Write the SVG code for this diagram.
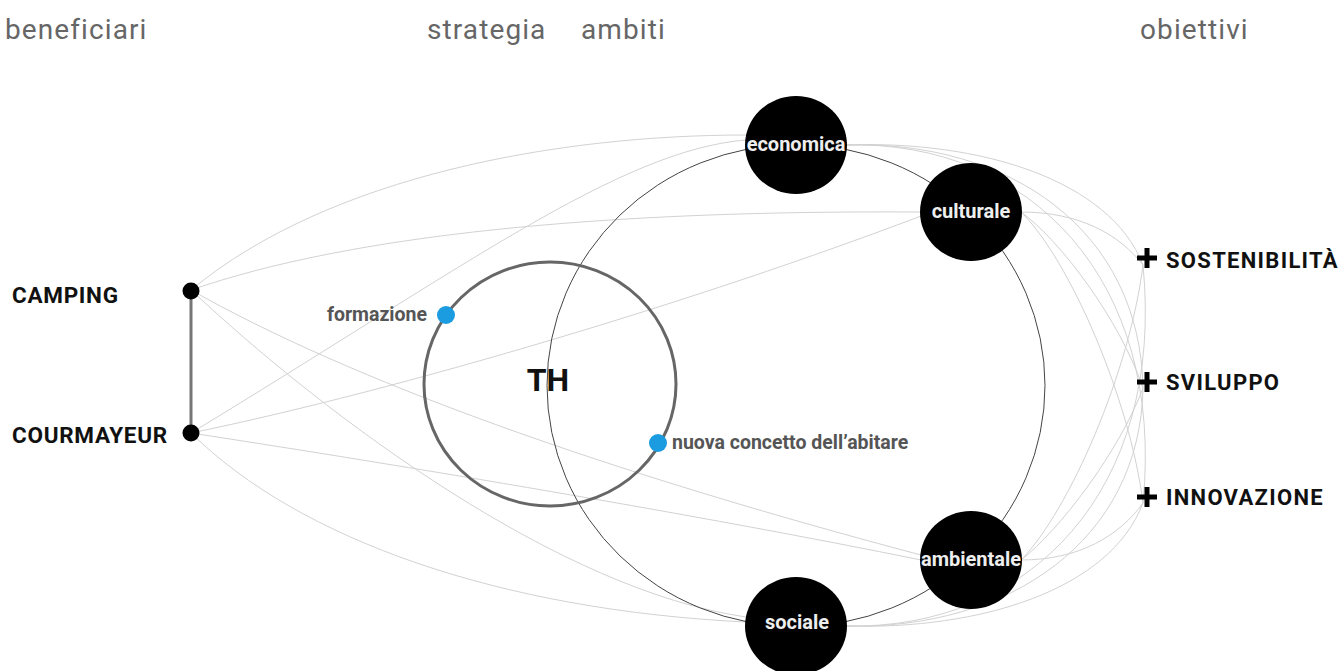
<svg xmlns="http://www.w3.org/2000/svg" width="1341" height="671" viewBox="0 0 1341 671">
  <style>
    .head { font-family: Roboto, "Liberation Sans", sans-serif; font-size: 28px; letter-spacing: 1.1px; fill: #666; }
    .benef { font-family: Roboto, "Liberation Sans", sans-serif; font-size: 22.5px; letter-spacing: 0.7px; font-weight: bold; fill: #111; }
    .goal { font-family: Roboto, "Liberation Sans", sans-serif; font-size: 22px; letter-spacing: 1.3px; font-weight: bold; fill: #111; }
    .strat { font-family: Roboto, "Liberation Sans", sans-serif; font-size: 19.5px; font-weight: bold; fill: #555; }
    .ambito { font-family: Roboto, "Liberation Sans", sans-serif; font-size: 20px; font-weight: bold; fill: #eee; text-anchor: middle; }
    .link { fill: none; stroke: #d2d2d2; stroke-width: 1; }
    .dot { fill: #000; }
    .blue { fill: #1b9be0; }
    .plus { stroke: #000; stroke-width: 5; fill: none; }
  </style>

  <!-- column headers -->
  <g id="headers">
    <text class="head" x="5" y="39">beneficiari</text>
    <text class="head" x="427" y="39">strategia</text>
    <text class="head" x="581" y="39">ambiti</text>
    <text class="head" x="1140" y="39">obiettivi</text>
  </g>

  <!-- connectors -->
  <g id="connectors">
    <!-- beneficiari to ambiti -->
    <path class="link" d="M191 290 C330 175 560 135 746 135"/>
    <path class="link" d="M191 433 C460 270 620 150 746 140"/>
    <path class="link" d="M191 290 C350 235 600 210 921 212"/>
    <path class="link" d="M191 433 C400 390 700 300 921 216"/>
    <path class="link" d="M191 290 C350 380 600 470 921 555"/>
    <path class="link" d="M191 433 C400 465 700 515 921 560"/>
    <path class="link" d="M191 290 C330 420 560 590 746 617"/>
    <path class="link" d="M191 433 C300 540 500 610 746 622"/>
    <!-- ambiti to obiettivi -->
    <path class="link" d="M846 145 C980 140 1110 180 1143 265"/>
    <path class="link" d="M846 145 C1010 140 1140 230 1143 388"/>
    <path class="link" d="M846 145 C1030 140 1165 280 1143 503"/>
    <path class="link" d="M1021 212 C1080 212 1120 235 1143 265"/>
    <path class="link" d="M1021 212 C1060 240 1120 320 1143 388"/>
    <path class="link" d="M1021 212 C1070 260 1130 400 1143 503"/>
    <path class="link" d="M1021 560 C1080 560 1120 535 1143 503"/>
    <path class="link" d="M1021 560 C1060 530 1120 450 1143 388"/>
    <path class="link" d="M1021 560 C1070 510 1130 370 1143 265"/>
    <path class="link" d="M846 626 C980 630 1110 590 1143 503"/>
    <path class="link" d="M846 626 C1010 630 1140 540 1143 388"/>
    <path class="link" d="M846 626 C1030 630 1165 490 1143 265"/>
    <!-- link between the two beneficiari -->
    <line x1="191" y1="291" x2="191" y2="433" stroke="#777" stroke-width="3"/>
  </g>

  <!-- ring of ambiti -->
  <ellipse id="ambiti-ring" cx="796" cy="385.5" rx="249" ry="241" fill="none" stroke="#444" stroke-width="1"/>

  <!-- strategia -->
  <g id="strategia-TH">
    <ellipse cx="550" cy="384" rx="126" ry="122" fill="none" stroke="#666" stroke-width="3"/>
    <text x="548" y="391" text-anchor="middle" font-family="Roboto, 'Liberation Sans', sans-serif" font-size="32" font-weight="bold" fill="#111">TH</text>
  </g>
  <g id="strategia-formazione">
    <circle class="blue" cx="446" cy="315" r="9"/>
    <text class="strat" x="427" y="321" text-anchor="end">formazione</text>
  </g>
  <g id="strategia-abitare">
    <circle class="blue" cx="658" cy="443" r="9"/>
    <text class="strat" x="672" y="449">nuova concetto dell’abitare</text>
  </g>

  <!-- beneficiari -->
  <g id="beneficiario-camping">
    <circle class="dot" cx="191" cy="291" r="8.5"/>
    <text class="benef" x="12" y="303">CAMPING</text>
  </g>
  <g id="beneficiario-courmayeur">
    <circle class="dot" cx="191" cy="433" r="8.5"/>
    <text class="benef" x="12" y="443">COURMAYEUR</text>
  </g>

  <!-- ambiti -->
  <g id="ambito-economica">
    <ellipse cx="796" cy="145" rx="51" ry="49" fill="#000"/>
    <text class="ambito" x="796" y="151">economica</text>
  </g>
  <g id="ambito-culturale">
    <ellipse cx="971" cy="212" rx="51" ry="49" fill="#000"/>
    <text class="ambito" x="971" y="218">culturale</text>
  </g>
  <g id="ambito-ambientale">
    <ellipse cx="971" cy="560" rx="51" ry="49" fill="#000"/>
    <text class="ambito" x="971" y="566">ambientale</text>
  </g>
  <g id="ambito-sociale">
    <ellipse cx="796" cy="626" rx="51" ry="49" fill="#000"/>
    <text class="ambito" x="797" y="629">sociale</text>
  </g>

  <!-- obiettivi -->
  <g id="obiettivo-sostenibilita">
    <path class="plus" d="M1137 258 H1157 M1147 248 V268"/>
    <text class="goal" x="1166" y="268">SOSTENIBILITÀ</text>
  </g>
  <g id="obiettivo-sviluppo">
    <path class="plus" d="M1137 382 H1157 M1147 372 V392"/>
    <text class="goal" x="1166" y="390">SVILUPPO</text>
  </g>
  <g id="obiettivo-innovazione">
    <path class="plus" d="M1137 497 H1157 M1147 487 V507"/>
    <text class="goal" x="1166" y="505">INNOVAZIONE</text>
  </g>
</svg>
